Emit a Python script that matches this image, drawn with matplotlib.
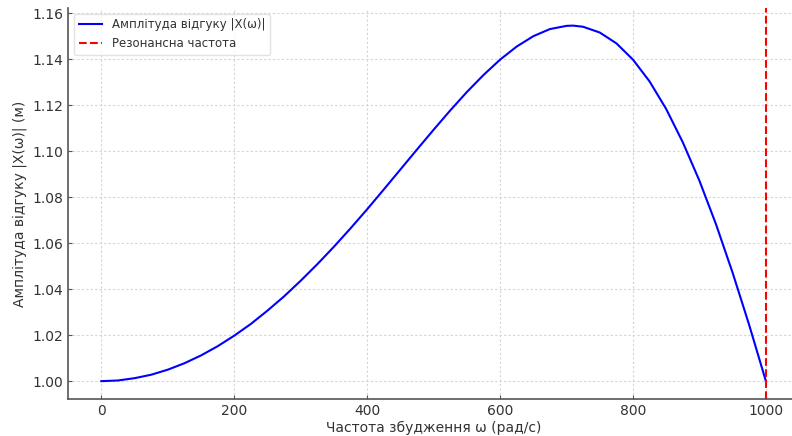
import numpy as np
import matplotlib.pyplot as plt

# частоти (рад/с) і амплітуда
omega = [0, 25, 50, 75, 100, 125, 150, 175, 200, 225, 250, 275, 300, 325, 350,
         375, 400, 425, 450, 475, 500, 525, 550, 575, 600, 625, 650, 675, 700,
         710, 725, 750, 775, 800, 825, 850, 875, 900, 925, 950, 975, 1000]
amp = [1.0000, 1.0003, 1.0013, 1.0028, 1.0050, 1.0078, 1.0112, 1.0152, 1.0198,
       1.0249, 1.0307, 1.0369, 1.0437, 1.0509, 1.0585, 1.0665, 1.0748, 1.0834,
       1.0921, 1.1008, 1.1094, 1.1178, 1.1258, 1.1332, 1.1399, 1.1456, 1.1501,
       1.1532, 1.1546, 1.1547, 1.1542, 1.1517, 1.1470, 1.1399, 1.1304, 1.1184,
       1.1039, 1.0872, 1.0682, 1.0471, 1.0243, 1.0000]
omega_res = 1000

plt.rcParams['font.family'] = ['DejaVu Sans']
txt = '#333333'

fig = plt.figure(figsize=(7.92, 4.36), dpi=100)
ax = fig.add_axes([0.086, 0.085, 0.923, 0.897])

ax.plot(omega, amp, 'b-', linewidth=1.5, label='Амплітуда відгуку |X(ω)|')
ax.axvline(omega_res, color='r', linestyle='--', linewidth=1.5, label='Резонансна частота')

ax.set_xlabel('Частота збудження ω (рад/с)', fontsize=10, color=txt, labelpad=2)
ax.set_ylabel('Амплітуда відгуку |X(ω)| (м)', fontsize=10, color=txt)
ax.grid(True, linestyle=(0, (2, 2)), color='#d4d4d4', linewidth=0.8)
ax.tick_params(direction='in', length=3, color='#555555', labelsize=10, labelcolor=txt)
ax.set_yticks(np.arange(1.00, 1.161, 0.02))
for s in ['top', 'right']:
    ax.spines[s].set_visible(False)
for s in ['left', 'bottom']:
    ax.spines[s].set_color('#555555')
    ax.spines[s].set_linewidth(1.2)

ax.legend(loc='upper left', fontsize=8.5, labelcolor=txt, framealpha=0.8, edgecolor='#dddddd')

fig.savefig('out.png', dpi=100)
